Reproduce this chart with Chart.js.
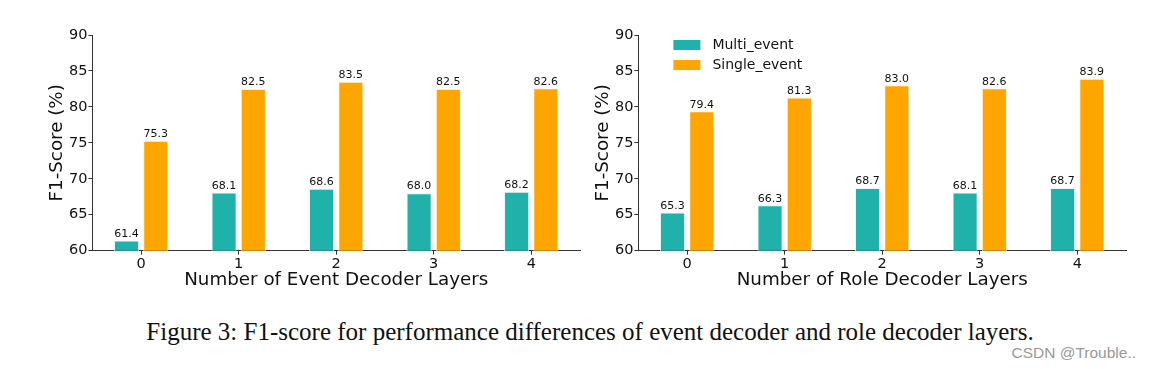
<!DOCTYPE html>
<html>
<head>
<meta charset="utf-8">
<script src="https://cdn.jsdelivr.net/npm/chart.js@4"></script>
<style>
  body { margin: 0; background: #fff; width: 1150px; height: 369px; overflow: hidden; position: relative; }
  .box { position: absolute; top: 0; width: 590px; height: 300px; }
  #caption { position: absolute; left: 0; width: 1180px; top: 318px; text-align: center;
    font-family: "Liberation Serif", "Times New Roman", serif; font-size: 25px; color: #111; }
  #mark { position: absolute; right: 14px; top: 344px; font-family: "Liberation Sans", Arial, sans-serif;
    font-size: 15.5px; color: #999; }
</style>
</head>
<body>
<div class="box" style="left:0"><canvas id="left-chart" width="590" height="300"></canvas></div>
<div class="box" style="left:546px"><canvas id="right-chart" width="590" height="300"></canvas></div>
<div id="caption">Figure 3: F1-score for performance differences of event decoder and role decoder layers.</div>
<div id="mark">CSDN @Trouble..</div>
<script>
const layers = ['0', '1', '2', '3', '4'];
const eventMulti = [61.4, 68.1, 68.6, 68.0, 68.2];
const eventSingle = [75.3, 82.5, 83.5, 82.5, 82.6];
const roleMulti = [65.3, 66.3, 68.7, 68.1, 68.7];
const roleSingle = [79.4, 81.3, 83.0, 82.6, 83.9];
const seriesNames = ['Multi_event', 'Single_event'];
const yTicks = [60, 65, 70, 75, 80, 85, 90];

const TEAL = '#20B2AA';
const ORANGE = '#FFA500';
const FONT = '"DejaVu Sans", sans-serif';
const AXIS = '#333';

// value labels above each bar
const valueLabels = {
  id: 'valueLabels',
  afterDatasetsDraw(chart) {
    const ctx = chart.ctx;
    ctx.save();
    ctx.font = '11px ' + FONT;
    ctx.fillStyle = '#111';
    ctx.textAlign = 'center';
    ctx.textBaseline = 'bottom';
    chart.data.datasets.forEach((ds, i) => {
      chart.getDatasetMeta(i).data.forEach((bar, j) => {
        ctx.fillText(ds.data[j].toFixed(1), bar.x, bar.y - 1);
      });
    });
    ctx.restore();
  }
};

// legend drawn inside the plot, upper left
const innerLegend = {
  id: 'innerLegend',
  afterDraw(chart) {
    if (!chart.options.plugins.innerLegend.show) return;
    const ctx = chart.ctx;
    const a = chart.chartArea;
    ctx.save();
    ctx.font = '14px ' + FONT;
    ctx.textBaseline = 'middle';
    chart.data.datasets.forEach((ds, i) => {
      const y = a.top + 10 + i * 20;
      ctx.fillStyle = ds.backgroundColor;
      ctx.fillRect(a.left + 35, y - 5, 27, 10);
      ctx.fillStyle = '#111';
      ctx.fillText(ds.label, a.left + 74, y);
    });
    ctx.restore();
  }
};

function makeChart(id, multi, single, xTitle, showLegend) {
  const ctx = document.getElementById(id).getContext('2d');
  return new Chart(ctx, {
    type: 'bar',
    data: {
      labels: layers,
      datasets: [
        { label: seriesNames[0], data: multi, backgroundColor: TEAL, borderColor: '#e8f8f7', borderWidth: 1 },
        { label: seriesNames[1], data: single, backgroundColor: ORANGE, borderColor: '#fff3dc', borderWidth: 1 }
      ]
    },
    options: {
      responsive: false,
      animation: false,
      datasets: { bar: { categoryPercentage: 0.6, barPercentage: 0.86 } },
      layout: { padding: { top: 35, right: 10, left: 43, bottom: 9 } },
      plugins: {
        legend: { display: false },
        tooltip: { enabled: false },
        innerLegend: { show: showLegend }
      },
      scales: {
        x: {
          grid: { display: true, offset: false, drawOnChartArea: false, drawTicks: true, tickLength: 4, color: AXIS },
          border: { color: AXIS, width: 1 },
          ticks: { color: '#111', font: { family: FONT, size: 14.5 }, padding: 1 },
          title: { display: true, text: xTitle, color: '#111', font: { family: FONT, size: 18.3 }, padding: { top: -5, bottom: 0 } }
        },
        y: {
          min: 60, max: 90,
          afterBuildTicks(axis) { axis.ticks = yTicks.map(v => ({ value: v })); },
          grid: { display: true, drawOnChartArea: false, drawTicks: true, tickLength: 4, color: AXIS },
          border: { color: AXIS, width: 1 },
          ticks: { color: '#111', font: { family: FONT, size: 14.5 }, padding: 1 },
          title: { display: true, text: 'F1-Score (%)', color: '#111', font: { family: FONT, size: 18.3 }, padding: { top: 3, bottom: 0 } }
        }
      }
    },
    plugins: [valueLabels, innerLegend]
  });
}

makeChart('left-chart', eventMulti, eventSingle, 'Number of Event Decoder Layers', false);
makeChart('right-chart', roleMulti, roleSingle, 'Number of Role Decoder Layers', true);
</script>
</body>
</html>
